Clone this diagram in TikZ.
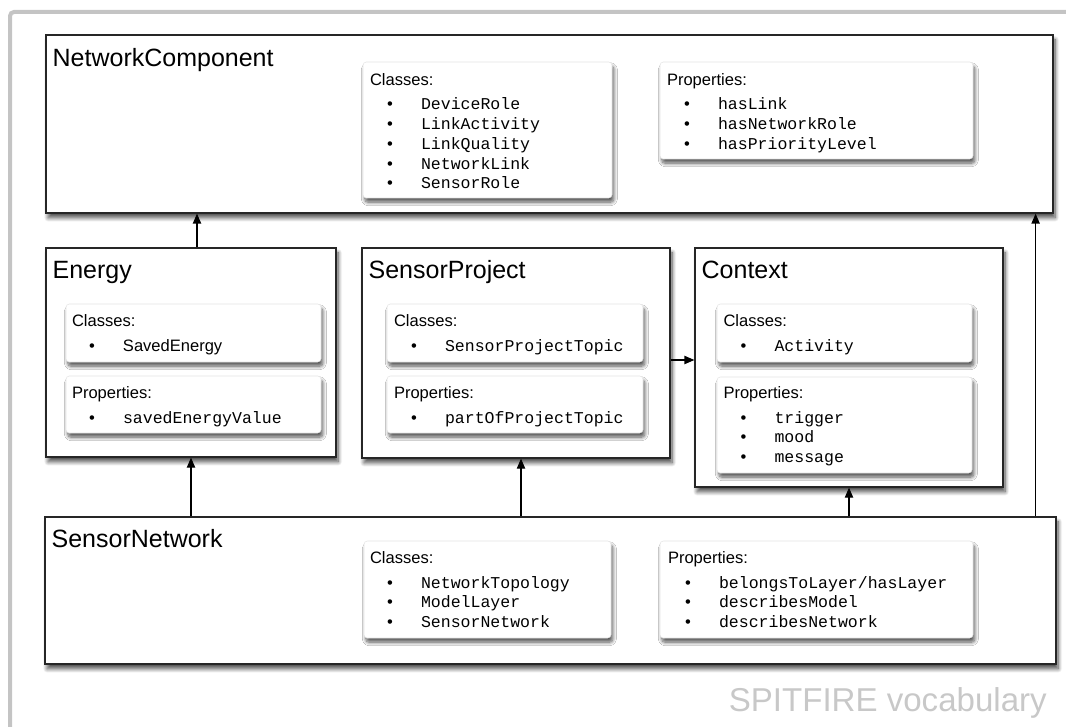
\documentclass[tikz,border=0pt]{standalone}
\usepackage{fontspec}
\setmainfont{Liberation Sans}
\setmonofont{Liberation Mono}
\usetikzlibrary{fit,arrows.meta,shadows.blur}

\definecolor{framegray}{RGB}{196,196,196}
\definecolor{labelgray}{RGB}{200,200,200}

% one bulleted entry of a Classes/Properties list
\newcommand\vocitem[1]{\hspace*{12.8pt}\makebox[25.45pt][l]{\textbullet}#1}
\newcommand\vocmono[1]{\vocitem{\texttt{#1}}}
% heading plus entries, first baseline on the node's base
\newcommand\voclist[2]{\begin{tabular}[t]{@{}l@{}}#1\\[3.4pt]#2\end{tabular}}

\begin{document}
\begin{tikzpicture}[x=0.75pt,y=-0.75pt,
  outerbox/.style={draw=black!85, fill=white, line width=0.9pt, inner sep=0pt,
    blur shadow={shadow xshift=1.6pt, shadow yshift=-3.6pt, shadow blur radius=3pt,
      shadow blur steps=12, shadow opacity=70}},
  subbox/.style={draw=black!10, fill=white, line width=0.4pt, rounded corners=2.5pt,
    inner sep=0pt,
    blur shadow={shadow xshift=1.4pt, shadow yshift=-3.2pt, shadow blur radius=2.6pt,
      shadow blur steps=10, shadow opacity=65}},
  boxtitle/.style={font=\fontsize{18.75pt}{22pt}\selectfont, inner sep=0pt, anchor=base west},
  listtext/.style={font=\fontsize{12.4pt}{14.8pt}\selectfont, inner sep=0pt, anchor=base west},
  arr/.style={-{Triangle[length=7.5pt,width=6.2pt]}, line width=0.9pt}]

\useasboundingbox (0,0) rectangle (1066,727);

% page frame
\draw[framegray, line width=3pt, rounded corners=3pt] (10,727) -- (10,12) -- (1066,12);

% modules
\node[outerbox, fit={(46,35) (1053,213)}] (nc) {};
\node[outerbox, fit={(46,248) (336,457)}] (en) {};
\node[outerbox, fit={(362,248) (670,458)}] (sp) {};
\node[outerbox, fit={(695,248) (1003,487)}] (ctx) {};
\node[outerbox, fit={(45,517) (1056,664)}] (sn) {};

\node[boxtitle] (nc-title) at ([shift={(7,32)}]nc.north west) {NetworkComponent};
\node[boxtitle] (en-title) at ([shift={(7,31)}]en.north west) {Energy};
\node[boxtitle] (sp-title) at ([shift={(7,31)}]sp.north west) {SensorProject};
\node[boxtitle] (ctx-title) at ([shift={(7,31)}]ctx.north west) {Context};
\node[boxtitle] (sn-title) at ([shift={(7,31)}]sn.north west) {SensorNetwork};

% NetworkComponent
\node[subbox, fit={(363,62) (612,198)}] (ncc) {};
\node[listtext] (ncc-text) at ([shift={(7,24)}]ncc.north west)
  {\voclist{Classes:}{\vocmono{DeviceRole}\\ \vocmono{LinkActivity}\\ \vocmono{LinkQuality}\\
   \vocmono{NetworkLink}\\ \vocmono{SensorRole}}};
\node[subbox, fit={(660,62) (973,159)}] (ncp) {};
\node[listtext] (ncp-text) at ([shift={(7,24)}]ncp.north west)
  {\voclist{Properties:}{\vocmono{hasLink}\\ \vocmono{hasNetworkRole}\\ \vocmono{hasPriorityLevel}}};

% Energy
\node[subbox, fit={(66,304) (321,362)}] (enc) {};
\node[listtext] (enc-text) at ([shift={(6,23)}]enc.north west)
  {\voclist{Classes:}{\vocitem{SavedEnergy}}};
\node[subbox, fit={(66,376) (321,433)}] (enp) {};
\node[listtext] (enp-text) at ([shift={(6,23)}]enp.north west)
  {\voclist{Properties:}{\vocmono{savedEnergyValue}}};

% SensorProject
\node[subbox, fit={(387,304) (643,362)}] (spc) {};
\node[listtext] (spc-text) at ([shift={(7,23)}]spc.north west)
  {\voclist{Classes:}{\vocmono{SensorProjectTopic}}};
\node[subbox, fit={(387,376) (643,433)}] (spp) {};
\node[listtext] (spp-text) at ([shift={(7,23)}]spp.north west)
  {\voclist{Properties:}{\vocmono{partOfProjectTopic}}};

% Context
\node[subbox, fit={(717,304) (972,362)}] (ctxc) {};
\node[listtext] (ctxc-text) at ([shift={(6.5,23)}]ctxc.north west)
  {\voclist{Classes:}{\vocmono{Activity}}};
\node[subbox, fit={(717,377) (972,473)}] (ctxp) {};
\node[listtext] (ctxp-text) at ([shift={(6.5,22)}]ctxp.north west)
  {\voclist{Properties:}{\vocmono{trigger}\\ \vocmono{mood}\\ \vocmono{message}}};

% SensorNetwork
\node[subbox, fit={(364,541) (611,638)}] (snc) {};
\node[listtext] (snc-text) at ([shift={(6,23)}]snc.north west)
  {\voclist{Classes:}{\vocmono{NetworkTopology}\\ \vocmono{ModelLayer}\\ \vocmono{SensorNetwork}}};
\node[subbox, fit={(660,541) (973,638)}] (snp) {};
\node[listtext] (snp-text) at ([shift={(8,23)}]snp.north west)
  {\voclist{Properties:}{\vocmono{belongsToLayer/hasLayer}\\ \vocmono{describesModel}\\
   \vocmono{describesNetwork}}};

% dependencies
\coordinate (en-top) at ([shift={(6,0)}]en.north);
\coordinate (sp-bot) at ([shift={(5,0)}]sp.south);
\coordinate (sn-right) at ([shift={(-21,0)}]sn.north east);
\coordinate (sp-out) at ([shift={(0,7)}]sp.east);

\draw[arr] (en-top) -- (en-top |- nc.south);
\draw[arr] (en.south |- sn.north) -- (en.south);
\draw[arr] (sp-bot |- sn.north) -- (sp-bot);
\draw[arr] (ctx.south |- sn.north) -- (ctx.south);
\draw[arr] (sn-right) -- (sn-right |- nc.south);
\draw[arr] (sp-out) -- (sp-out -| ctx.west);

\node[font=\fontsize{24.8pt}{30pt}\selectfont, text=labelgray, anchor=base east, inner sep=0pt]
  (caption) at (1047,711) {SPITFIRE vocabulary};
\end{tikzpicture}
\end{document}
